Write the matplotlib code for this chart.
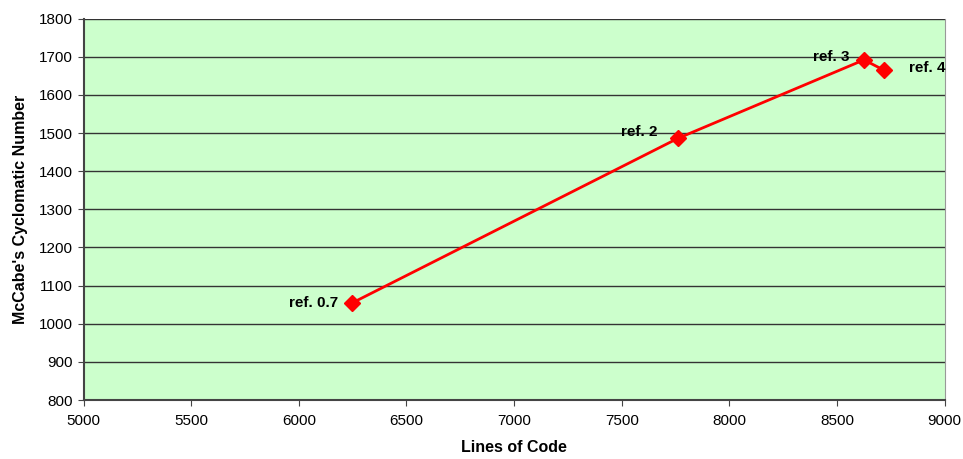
import matplotlib.pyplot as plt

# data
releases = ["ref. 0.7", "ref. 2", "ref. 3", "ref. 4"]
lines_of_code = [6246, 7760, 8625, 8718]
cyclomatic = [1054, 1486, 1692, 1665]

plt.rcParams["font.family"] = ["Liberation Sans", "DejaVu Sans"]

fig = plt.figure(figsize=(9.63, 4.59), dpi=100)
ax = fig.add_axes([83.5 / 963, 1 - 400 / 459, (944.7 - 83.5) / 963, (400 - 18.7) / 459])
ax.set_facecolor("#CCFFCC")

ax.plot(lines_of_code, cyclomatic, color="red", lw=2, marker="D", markersize=8,
        markerfacecolor="red", markeredgecolor="red", zorder=3)

# label offsets in pixels (x, y, alignment)
offsets = [(-14, 0, "right"), (-20, 6, "right"), (-14, 3, "right"), (25, 2, "left")]
for name, x, y, (dx, dy, ha) in zip(releases, lines_of_code, cyclomatic, offsets):
    ax.annotate(name, (x, y), xytext=(dx, dy), textcoords="offset pixels",
                ha=ha, va="center", fontsize=11, fontweight="bold")

ax.set_xlim(5000, 9000)
ax.set_ylim(800, 1800)
ax.set_xticks(range(5000, 9001, 500))
ax.set_yticks(range(800, 1801, 100))
ax.yaxis.grid(True, color="#333333", lw=1)
ax.set_axisbelow(True)
ax.tick_params(labelsize=11, length=4, color="#444444")
ax.tick_params(axis="x", pad=6)

for s in ["left", "bottom"]:
    ax.spines[s].set_color("#444444")
    ax.spines[s].set_linewidth(1.5)
ax.spines["right"].set_color("#999999")
ax.spines["top"].set_visible(False)

ax.set_xlabel("Lines of Code", fontsize=11.5, fontweight="bold", labelpad=9)
ax.set_ylabel("McCabe's Cyclomatic Number", fontsize=11.5, fontweight="bold", labelpad=8)

plt.savefig("out.png", dpi=100)
